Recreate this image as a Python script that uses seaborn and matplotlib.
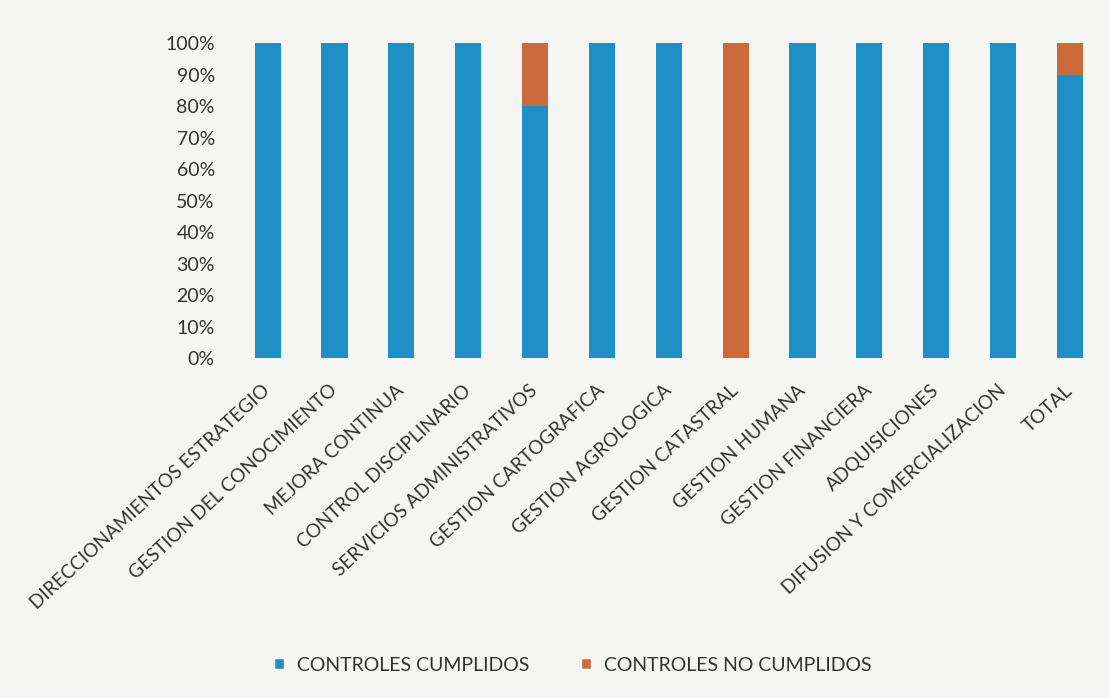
import matplotlib.pyplot as plt
import matplotlib.transforms as mtransforms
import numpy as np
import pandas as pd
import seaborn as sns
from matplotlib.patches import Patch

procesos = ['DIRECCIONAMIENTOS ESTRATEGIO', 'GESTION DEL CONOCIMIENTO',
            'MEJORA CONTINUA', 'CONTROL DISCIPLINARIO',
            'SERVICIOS ADMINISTRATIVOS', 'GESTION CARTOGRAFICA',
            'GESTION AGROLOGICA', 'GESTION CATASTRAL', 'GESTION HUMANA',
            'GESTION FINANCIERA', 'ADQUISICIONES',
            'DIFUSION Y COMERCIALIZACION', 'TOTAL']
cumplidos = [100, 100, 100, 100, 80, 100, 100, 0, 100, 100, 100, 100, 90]
no_cumplidos = [0, 0, 0, 0, 20, 0, 0, 100, 0, 0, 0, 0, 10]
y_ticks = [0, 10, 20, 30, 40, 50, 60, 70, 80, 90, 100]

azul = '#1F90C6'
naranja = '#CB6A3B'
texto = '#333333'
fondo = '#F5F5F3'

sns.set_style('white')
plt.rcParams['font.family'] = ['Lato', 'DejaVu Sans']

df = pd.DataFrame({'proceso': procesos,
                   'cumplidos': cumplidos,
                   'no_cumplidos': no_cumplidos})
df['acumulado'] = df['cumplidos'] + df['no_cumplidos']

fig = plt.figure(figsize=(11.1, 6.98), dpi=100, facecolor=fondo)
ax = fig.add_axes([0.211, 0.487, 0.783, 0.451])
ax.set_facecolor(fondo)

# stacked: orange full height first, blue share drawn over it
sns.barplot(data=df, x='proceso', y='acumulado', color=naranja,
            width=0.39, saturation=1, linewidth=0, ax=ax)
sns.barplot(data=df, x='proceso', y='cumplidos', color=azul,
            width=0.39, saturation=1, linewidth=0, ax=ax)

ax.set_xlim(-0.5, len(procesos) - 0.5)
ax.set_ylim(0, 100)
ax.set_yticks(y_ticks)
ax.set_yticklabels([f'{v}%' for v in y_ticks], fontsize=14, color=texto)
ax.set_xticks(range(len(procesos)))
ax.set_xticklabels(procesos, rotation=43, ha='right',
                   rotation_mode='anchor', fontsize=13.7, color=texto)
ax.tick_params(axis='y', length=0, pad=14)
ax.tick_params(axis='x', length=0, pad=17)
shift = mtransforms.ScaledTranslation(-0.06, 0, fig.dpi_scale_trans)
for lbl in ax.get_xticklabels():
    lbl.set_transform(lbl.get_transform() + shift)
ax.set_xlabel('')
ax.set_ylabel('')
sns.despine(ax=ax, left=True, bottom=True)

handles = [Patch(facecolor=azul, label='CONTROLES CUMPLIDOS'),
           Patch(facecolor=naranja, label='CONTROLES NO CUMPLIDOS')]
leg = fig.legend(handles=handles, loc='center', bbox_to_anchor=(0.516, 0.047),
                 ncol=2, frameon=False, fontsize=14, handlelength=0.5,
                 handleheight=0.5, columnspacing=2.7, handletextpad=0.65)
for t in leg.get_texts():
    t.set_color(texto)

plt.savefig('out.png', dpi=100, facecolor=fondo)
